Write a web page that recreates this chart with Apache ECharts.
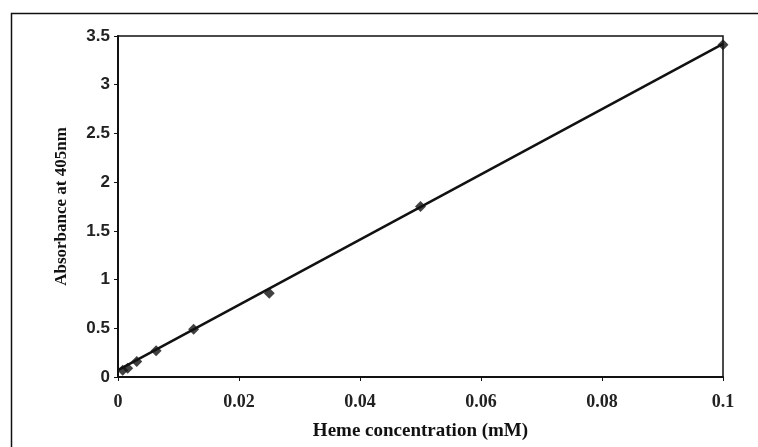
<!DOCTYPE html>
<html>
<head>
<meta charset="utf-8">
<script src="https://cdn.jsdelivr.net/npm/echarts@6/dist/echarts.min.js"></script>
<style>html,body{margin:0;padding:0;background:#fff;}#c{width:758px;height:447px;}</style>
</head>
<body>
<div id="c"></div>
<script>
// Heme concentration (mM) and absorbance at 405 nm
var concentration = [0.00078, 0.0016, 0.0031, 0.0063, 0.0125, 0.025, 0.05, 0.1];
var absorbance    = [0.07,    0.09,   0.16,   0.27,   0.49,   0.86,  1.75, 3.41];
// Linear trendline endpoints
var trendX = [0, 0.1];
var trendY = [0.07, 3.42];
var xTicks = [0, 0.02, 0.04, 0.06, 0.08, 0.1];
var yTicks = [0, 0.5, 1, 1.5, 2, 2.5, 3, 3.5];

var chart = echarts.init(document.getElementById('c'), null, {renderer: 'canvas'});
var pts = concentration.map(function (c, i) { return [c, absorbance[i]]; });
var trend = trendX.map(function (c, i) { return [c, trendY[i]]; });

chart.setOption({
  animation: false,
  backgroundColor: '#fff',
  graphic: [{
    type: 'rect', left: 9, top: 11, silent: true,
    shape: {width: 770, height: 460},
    style: {fill: 'none', stroke: '#111', lineWidth: 1.5}
  }],
  grid: {left: 118, right: 35, top: 36, bottom: 70, show: true, borderColor: '#111', borderWidth: 1.5, backgroundColor: 'transparent'},
  xAxis: {
    type: 'value', min: 0, max: 0.1, interval: 0.02,
    name: 'Heme concentration (mM)', nameLocation: 'middle', nameGap: 45,
    nameTextStyle: {fontFamily: 'Liberation Serif', fontWeight: 'bold', fontSize: 19, color: '#111'},
    axisLine: {lineStyle: {color: '#111', width: 2}},
    axisTick: {show: true, length: 4, lineStyle: {color: '#111'}},
    axisLabel: {fontFamily: 'Liberation Serif', fontWeight: 'bold', fontSize: 18, color: '#222', margin: 16,
      formatter: function (v) { return xTicks.indexOf(+v.toFixed(2)) >= 0 ? String(+v.toFixed(2)) : ''; }},
    splitLine: {show: false}
  },
  yAxis: {
    type: 'value', min: 0, max: 3.5, interval: 0.5,
    name: 'Absorbance at 405nm', nameLocation: 'middle', nameGap: 48, nameRotate: 90,
    nameTextStyle: {fontFamily: 'Liberation Serif', fontWeight: 'bold', fontSize: 17, color: '#111'},
    axisLine: {lineStyle: {color: '#111', width: 2}},
    axisTick: {show: true, length: 4, lineStyle: {color: '#111'}},
    axisLabel: {fontFamily: 'Liberation Sans', fontWeight: 'bold', fontSize: 17, color: '#222', margin: 8,
      formatter: function (v) { return yTicks.indexOf(+v.toFixed(1)) >= 0 ? String(+v.toFixed(1)) : ''; }},
    splitLine: {show: false}
  },
  series: [{
    type: 'line', data: trend, symbol: 'none',
    lineStyle: {color: '#111', width: 2.5}, z: 2
  }, {
    type: 'scatter', data: pts, symbol: 'diamond', symbolSize: 11,
    itemStyle: {color: '#111'}, z: 3
  }]
});
</script>
</body>
</html>
